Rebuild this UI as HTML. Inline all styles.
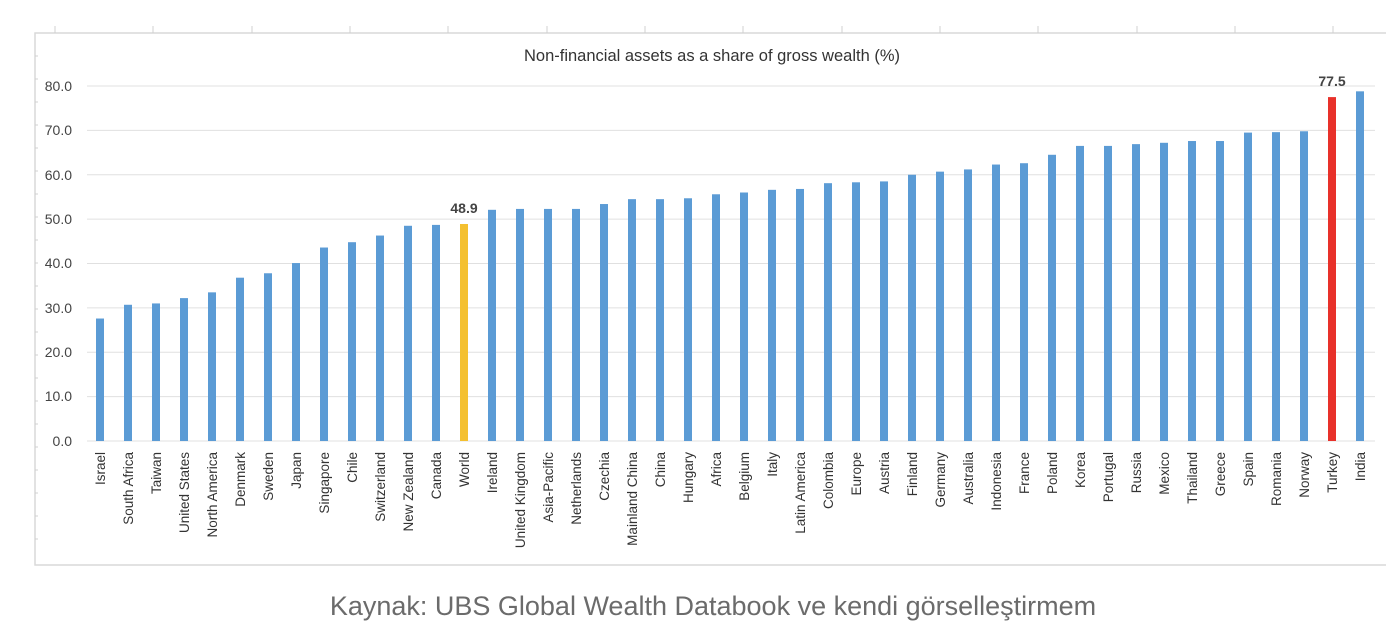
<!DOCTYPE html>
<html><head><meta charset="utf-8"><style>
html,body{margin:0;padding:0;background:#fff;}
svg{display:block;font-family:"Liberation Sans",sans-serif;}
</style></head><body>
<svg width="1386" height="638" viewBox="0 0 1386 638" xmlns="http://www.w3.org/2000/svg">
<rect x="35" y="33" width="1360" height="532" fill="#fff" stroke="#d9d9d9" stroke-width="1.5"/>
<g stroke="#d0d0d0" stroke-width="1">
<line x1="55" y1="26" x2="55" y2="33"/><line x1="153" y1="26" x2="153" y2="33"/><line x1="252" y1="26" x2="252" y2="33"/><line x1="350" y1="26" x2="350" y2="33"/><line x1="448" y1="26" x2="448" y2="33"/><line x1="547" y1="26" x2="547" y2="33"/><line x1="645" y1="26" x2="645" y2="33"/><line x1="743" y1="26" x2="743" y2="33"/><line x1="842" y1="26" x2="842" y2="33"/><line x1="940" y1="26" x2="940" y2="33"/><line x1="1038" y1="26" x2="1038" y2="33"/><line x1="1137" y1="26" x2="1137" y2="33"/><line x1="1235" y1="26" x2="1235" y2="33"/><line x1="1333" y1="26" x2="1333" y2="33"/>
<line x1="35" y1="56" x2="38" y2="56"/><line x1="35" y1="79" x2="38" y2="79"/><line x1="35" y1="102" x2="38" y2="102"/><line x1="35" y1="125" x2="38" y2="125"/><line x1="35" y1="148" x2="38" y2="148"/><line x1="35" y1="171" x2="38" y2="171"/><line x1="35" y1="194" x2="38" y2="194"/><line x1="35" y1="217" x2="38" y2="217"/><line x1="35" y1="240" x2="38" y2="240"/><line x1="35" y1="263" x2="38" y2="263"/><line x1="35" y1="286" x2="38" y2="286"/><line x1="35" y1="309" x2="38" y2="309"/><line x1="35" y1="332" x2="38" y2="332"/><line x1="35" y1="355" x2="38" y2="355"/><line x1="35" y1="378" x2="38" y2="378"/><line x1="35" y1="401" x2="38" y2="401"/><line x1="35" y1="424" x2="38" y2="424"/><line x1="35" y1="447" x2="38" y2="447"/><line x1="35" y1="470" x2="38" y2="470"/><line x1="35" y1="493" x2="38" y2="493"/><line x1="35" y1="516" x2="38" y2="516"/><line x1="35" y1="539" x2="38" y2="539"/>
</g>
<g stroke="#e0e0e0" stroke-width="1">
<line x1="87" y1="86" x2="1375" y2="86"/><line x1="87" y1="130.4" x2="1375" y2="130.4"/><line x1="87" y1="174.8" x2="1375" y2="174.8"/><line x1="87" y1="219.1" x2="1375" y2="219.1"/><line x1="87" y1="263.5" x2="1375" y2="263.5"/><line x1="87" y1="307.9" x2="1375" y2="307.9"/><line x1="87" y1="352.3" x2="1375" y2="352.3"/><line x1="87" y1="396.6" x2="1375" y2="396.6"/><line x1="87" y1="441" x2="1375" y2="441"/>
</g>
<text x="712" y="61" text-anchor="middle" font-size="16.5" fill="#333">Non-financial assets as a share of gross wealth (%)</text>
<g font-size="14" fill="#444" text-anchor="end">
<text x="72" y="91">80.0</text><text x="72" y="135">70.0</text><text x="72" y="180">60.0</text><text x="72" y="224">50.0</text><text x="72" y="268">40.0</text><text x="72" y="313">30.0</text><text x="72" y="357">20.0</text><text x="72" y="401">10.0</text><text x="72" y="446">0.0</text>
</g>
<g transform="translate(0,441) scale(1,-4.4375)" fill="#5b9bd5">
<rect x="96" width="8" height="27.6"/>
<rect x="124" width="8" height="30.7"/>
<rect x="152" width="8" height="31"/>
<rect x="180" width="8" height="32.2"/>
<rect x="208" width="8" height="33.5"/>
<rect x="236" width="8" height="36.8"/>
<rect x="264" width="8" height="37.8"/>
<rect x="292" width="8" height="40.1"/>
<rect x="320" width="8" height="43.6"/>
<rect x="348" width="8" height="44.8"/>
<rect x="376" width="8" height="46.3"/>
<rect x="404" width="8" height="48.5"/>
<rect x="432" width="8" height="48.7"/>
<rect x="460" width="8" height="48.9" fill="#f4c030"/>
<rect x="488" width="8" height="52.1"/>
<rect x="516" width="8" height="52.3"/>
<rect x="544" width="8" height="52.3"/>
<rect x="572" width="8" height="52.3"/>
<rect x="600" width="8" height="53.4"/>
<rect x="628" width="8" height="54.5"/>
<rect x="656" width="8" height="54.5"/>
<rect x="684" width="8" height="54.7"/>
<rect x="712" width="8" height="55.6"/>
<rect x="740" width="8" height="56"/>
<rect x="768" width="8" height="56.6"/>
<rect x="796" width="8" height="56.8"/>
<rect x="824" width="8" height="58.1"/>
<rect x="852" width="8" height="58.3"/>
<rect x="880" width="8" height="58.5"/>
<rect x="908" width="8" height="60"/>
<rect x="936" width="8" height="60.7"/>
<rect x="964" width="8" height="61.2"/>
<rect x="992" width="8" height="62.3"/>
<rect x="1020" width="8" height="62.6"/>
<rect x="1048" width="8" height="64.5"/>
<rect x="1076" width="8" height="66.5"/>
<rect x="1104" width="8" height="66.5"/>
<rect x="1132" width="8" height="66.9"/>
<rect x="1160" width="8" height="67.2"/>
<rect x="1188" width="8" height="67.6"/>
<rect x="1216" width="8" height="67.6"/>
<rect x="1244" width="8" height="69.5"/>
<rect x="1272" width="8" height="69.6"/>
<rect x="1300" width="8" height="69.8"/>
<rect x="1328" width="8" height="77.5" fill="#e8312a"/>
<rect x="1356" width="8" height="78.8"/>
</g>
<text x="464" y="213" text-anchor="middle" font-size="14" font-weight="bold" fill="#444">48.9</text>
<text x="1332" y="86" text-anchor="middle" font-size="14" font-weight="bold" fill="#444">77.5</text>
<g font-size="13.5" fill="#333" text-anchor="end">
<text transform="translate(105,452) rotate(-90)">Israel</text>
<text transform="translate(133,452) rotate(-90)">South Africa</text>
<text transform="translate(161,452) rotate(-90)">Taiwan</text>
<text transform="translate(189,452) rotate(-90)">United States</text>
<text transform="translate(217,452) rotate(-90)">North America</text>
<text transform="translate(245,452) rotate(-90)">Denmark</text>
<text transform="translate(273,452) rotate(-90)">Sweden</text>
<text transform="translate(301,452) rotate(-90)">Japan</text>
<text transform="translate(329,452) rotate(-90)">Singapore</text>
<text transform="translate(357,452) rotate(-90)">Chile</text>
<text transform="translate(385,452) rotate(-90)">Switzerland</text>
<text transform="translate(413,452) rotate(-90)">New Zealand</text>
<text transform="translate(441,452) rotate(-90)">Canada</text>
<text transform="translate(469,452) rotate(-90)">World</text>
<text transform="translate(497,452) rotate(-90)">Ireland</text>
<text transform="translate(525,452) rotate(-90)">United Kingdom</text>
<text transform="translate(553,452) rotate(-90)">Asia-Pacific</text>
<text transform="translate(581,452) rotate(-90)">Netherlands</text>
<text transform="translate(609,452) rotate(-90)">Czechia</text>
<text transform="translate(637,452) rotate(-90)">Mainland China</text>
<text transform="translate(665,452) rotate(-90)">China</text>
<text transform="translate(693,452) rotate(-90)">Hungary</text>
<text transform="translate(721,452) rotate(-90)">Africa</text>
<text transform="translate(749,452) rotate(-90)">Belgium</text>
<text transform="translate(777,452) rotate(-90)">Italy</text>
<text transform="translate(805,452) rotate(-90)">Latin America</text>
<text transform="translate(833,452) rotate(-90)">Colombia</text>
<text transform="translate(861,452) rotate(-90)">Europe</text>
<text transform="translate(889,452) rotate(-90)">Austria</text>
<text transform="translate(917,452) rotate(-90)">Finland</text>
<text transform="translate(945,452) rotate(-90)">Germany</text>
<text transform="translate(973,452) rotate(-90)">Australia</text>
<text transform="translate(1001,452) rotate(-90)">Indonesia</text>
<text transform="translate(1029,452) rotate(-90)">France</text>
<text transform="translate(1057,452) rotate(-90)">Poland</text>
<text transform="translate(1085,452) rotate(-90)">Korea</text>
<text transform="translate(1113,452) rotate(-90)">Portugal</text>
<text transform="translate(1141,452) rotate(-90)">Russia</text>
<text transform="translate(1169,452) rotate(-90)">Mexico</text>
<text transform="translate(1197,452) rotate(-90)">Thailand</text>
<text transform="translate(1225,452) rotate(-90)">Greece</text>
<text transform="translate(1253,452) rotate(-90)">Spain</text>
<text transform="translate(1281,452) rotate(-90)">Romania</text>
<text transform="translate(1309,452) rotate(-90)">Norway</text>
<text transform="translate(1337,452) rotate(-90)">Turkey</text>
<text transform="translate(1365,452) rotate(-90)">India</text>
</g>
<text x="713" y="615" text-anchor="middle" font-size="27" fill="#6b6b6b">Kaynak: UBS Global Wealth Databook ve kendi görselleştirmem</text>
</svg>
</body></html>
